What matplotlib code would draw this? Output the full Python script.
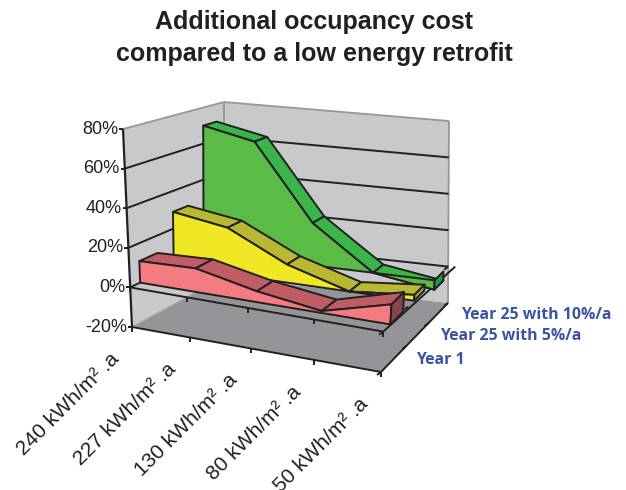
import matplotlib
matplotlib.use("Agg")
import matplotlib.pyplot as plt
import numpy as np
from matplotlib.patches import Polygon

plt.rcParams["font.family"] = ["Liberation Sans", "DejaVu Sans"]

# Data
categories = ["240 kWh/m² .a", "227 kWh/m² .a", "130 kWh/m² .a", "80 kWh/m² .a", "50 kWh/m² .a"]
series_names = ["Year 1", "Year 25 with 5%/a", "Year 25 with 10%/a"]
year_1 = [11, 12, 5.5, 1, 10]
year_25_5 = [29, 24.5, 9.5, 0, 3]
year_25_10 = [70, 64, 23, 0, -5]
value_ticks = [-20, 0, 20, 40, 60, 80]


def homography(corners):
    # unit square -> the four given corners
    (x0, y0), (x1, y1), (x2, y2), (x3, y3) = corners
    a = np.array([[x1 - x2, x3 - x2], [y1 - y2, y3 - y2]], float)
    b = np.array([x0 - x1 + x2 - x3, y0 - y1 + y2 - y3], float)
    g, h = np.linalg.solve(a, b)
    return np.array([[x1 - x0 + g * x1, x3 - x0 + h * x3, x0],
                     [y1 - y0 + g * y1, y3 - y0 + h * y3, y0],
                     [g, h, 1.0]])


# box of the 3D chart, corners in order front-left, front-right, back-right, back-left
floor = homography([(132, 327), (381, 372), (448, 303), (224, 277)])
ceiling = homography([(123, 129), (392, 170), (449, 121), (224, 102)])


def project(u, d, value):
    t = (value + 20) / 100
    u = u + 0.14 * u * (1 - u)  # the reference has less perspective along the x axis
    p = floor @ [u, d, 1]
    q = ceiling @ [u, d, 1]
    return (1 - t) * p[:2] / p[2] + t * q[:2] / q[2]


fig = plt.figure(figsize=(6.26, 4.9), dpi=100)
ax = fig.add_axes([0, 0, 1, 1])
ax.set_xlim(0, 626)
ax.set_ylim(490, 0)
ax.axis("off")

EDGE = "#231f20"
WALL = "#c8c9cb"
FLOOR = "#939598"


def face(points, color, z, edge=EDGE, lw=1.4):
    ax.add_patch(Polygon(points, closed=True, facecolor=color, edgecolor=edge,
                         linewidth=lw, joinstyle="round", zorder=z))


def line(a, b, lw=1.4, color=EDGE, z=2):
    ax.plot([a[0], b[0]], [a[1], b[1]], color=color, lw=lw, zorder=z, solid_capstyle="butt")


# walls and floor
face([project(0, 0, -20), project(0, 0, 80), project(0, 1, 80), project(0, 1, -20)], WALL, 1, edge="none")
face([project(0, 1, -20), project(0, 1, 80), project(1, 1, 80), project(1, 1, -20)], WALL, 1, edge="none")
face([project(0, 0, -20), project(1, 0, -20), project(1, 1, -20), project(0, 1, -20)], FLOOR, 1.1, edge="none")
line(project(0, 0, 80), project(0, 1, 80), color="#96979a", lw=1.3)
line(project(0, 1, 80), project(1, 1, 80), color="#96979a", lw=1.3)
line(project(0, 1, 80), project(0, 1, -20), color="#96979a", lw=1.3)
line(project(1, 1, 80), project(1, 1, -20), color="#96979a", lw=1.3)
line(project(0, 0, -20), project(0, 1, -20), color="#a8a9ab", lw=1)

# gridlines on the walls
for v in value_ticks[1:-1]:
    line(project(0, 0, v), project(0, 1, v))
    line(project(0, 1, v), project(1, 1, v))

# value axis
line(project(0, 0, 80), project(0, 0, -20), lw=1.6)
for v in value_ticks:
    p = project(0, 0, v)
    line(p, p + [-4, 0])
    ax.text(p[0] - 5, p[1], f"{v}%", ha="right", va="center", fontsize=13, color=EDGE)

# category axis at -20 and at 0, depth axis at -20 and at 0
for v in (-20, 0):
    line(project(0, 0, v), project(1, 0, v), z=2.5 if v == -20 else 2)
    line(project(1, 0, v), project(1, 1, v) + ([0, 0] if v == -20 else [7, 0]), z=2)
    for i in range(len(categories)):
        p = project(i / 4, 0, v)
        line(p, p + [0, 5])
    for i in range(len(series_names) + 1):
        p = project(1, i / 3, v)
        line(p, p + [-4, 3])

# the ribbons, back to front
styles = [
    (year_25_10, 0.75, 0.91, "#5abb47", "#39b54a", "#1f9a4a", 5),
    (year_25_5, 0.42, 0.58, "#f0e824", "#b8b832", "#a5a52c", 6),
    (year_1, 0.09, 0.26, "#f47c80", "#c05c64", "#87444a", 7),
]
for values, d0, d1, front, top, side, z in styles:
    n = len(values)
    us = [i / (n - 1) for i in range(n)]
    for i in range(n - 1):
        face([project(us[i], d0, values[i]), project(us[i + 1], d0, values[i + 1]),
              project(us[i + 1], d1, values[i + 1]), project(us[i], d1, values[i])], top, z)
    outline = [project(u, d0, v) for u, v in zip(us, values)]
    outline += [project(1, d0, 0), project(0, d0, 0)]
    face(outline, front, z + 0.1)
    face([project(1, d0, values[-1]), project(1, d1, values[-1]),
          project(1, d1, 0), project(1, d0, 0)], side, z + 0.2)

# labels
for i, name in enumerate(categories):
    p = project(i / 4, 0, -20)
    ax.text(p[0] - 23, p[1] + 22, name, rotation=45, rotation_mode="anchor", ha="right", va="top",
            fontsize=15, color=EDGE)

label_pos = [(416, 360), (440, 336), (461, 315)]
for name, (x, y) in zip(series_names, label_pos):
    ax.text(x, y, name, ha="left", va="center", fontsize=11.4, fontweight="bold",
            color="#3a53a4", family=["Open Sans", "DejaVu Sans"])

ax.text(314, 38, "Additional occupancy cost\ncompared to a low energy retrofit", ha="center", va="center",
        fontsize=18, fontweight="bold", color=EDGE, linespacing=1.45)

fig.savefig("out.png", dpi=100)
